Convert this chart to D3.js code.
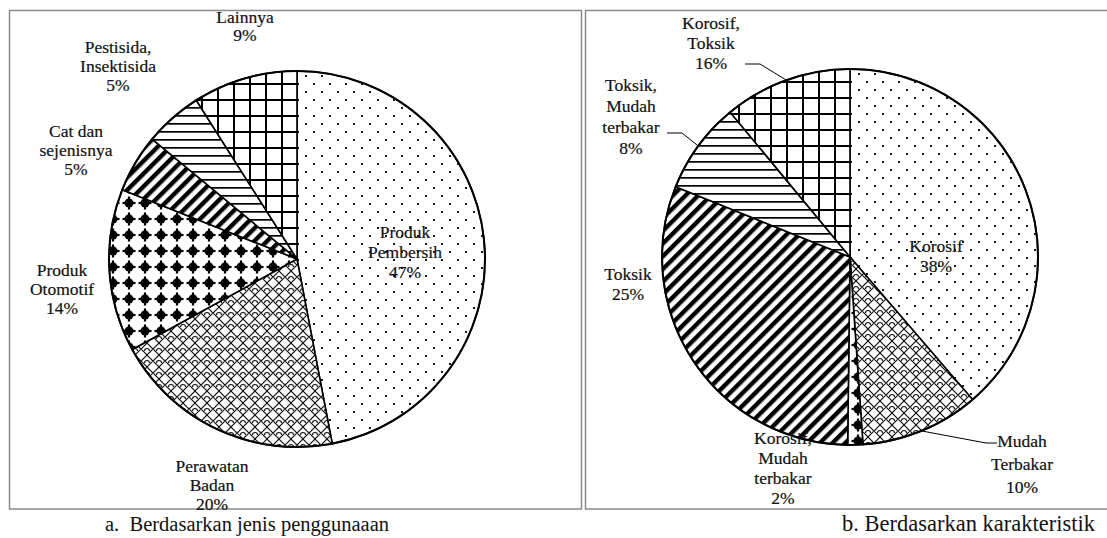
<!DOCTYPE html>
<meta charset="utf-8">
<style>
    body { margin: 0; background: #fff; }
    .frame { fill: none; stroke: #8a8a8a; stroke-width: 1.5px; }
    .slice { stroke: #000; stroke-width: 1.6px; }
    .leader { fill: none; stroke: #000; stroke-width: 1px; }
</style>
<body>
    <svg width="1107" height="538"></svg>
</body>
<script src="https://d3js.org/d3.v7.min.js"></script>
<script>
    // a. by type of use
    var usageNames = ["Produk Pembersih", "Perawatan Badan", "Produk Otomotif", "Cat dan sejenisnya", "Pestisida, Insektisida", "Lainnya"];
    var usageValues = [47, 20, 14, 5, 5, 9];
    var usageLabels = [["Produk", "Pembersih", "47%"], ["Perawatan", "Badan", "20%"], ["Produk", "Otomotif", "14%"],
        ["Cat dan", "sejenisnya", "5%"], ["Pestisida,", "Insektisida", "5%"], ["Lainnya", "9%"]];

    // b. by characteristic (slice sizes as drawn, labels as printed)
    var charNames = ["Korosif", "Mudah Terbakar", "Korosif, Mudah terbakar", "Toksik", "Toksik, Mudah terbakar", "Korosif, Toksik"];
    var charValues = [38.7, 10.2, 1.3, 30.9, 7.9, 11.0];
    var charLabels = [["Korosif", "38%"], ["Mudah", "Terbakar", "10%"], ["Korosif,", "Mudah", "terbakar", "2%"],
        ["Toksik", "25%"], ["Toksik,", "Mudah", "terbakar", "8%"], ["Korosif,", "Toksik", "16%"]];

    var patternOrder = ["dots", "shingle", "blobs", "wideup", "horiz", "grid"];

    var FONT = "Liberation Serif";
    var svg = d3.select("svg");
    var R = 188;

    // ---- fill patterns
    var defs = svg.append("defs");

    function pat(id, w, h, tf) {
        var p = defs.append("pattern")
            .attr("id", id)
            .attr("patternUnits", "userSpaceOnUse")
            .attr("width", w)
            .attr("height", h);
        if (tf) p.attr("patternTransform", tf);
        p.append("rect").attr("width", w).attr("height", h).attr("fill", "#fff");
        return p;
    }

    var p = pat("dots", 16, 16);
    p.append("rect").attr("x", 0).attr("y", 0).attr("width", 2).attr("height", 2).attr("fill", "#1a1a1a");
    p.append("rect").attr("x", 8).attr("y", 8).attr("width", 2).attr("height", 2).attr("fill", "#1a1a1a");

    p = pat("shingle", 12, 12);
    p.append("path")
        .attr("d", "M0,6 L6,0 L12,6 L6,12 Z M3.5,8 A2.5,2.5 0 0 1 8.5,8")
        .attr("fill", "none").attr("stroke", "#111").attr("stroke-width", 1.1);

    p = pat("blobs", 16, 16);
    p.append("circle").attr("cx", 8).attr("cy", 8).attr("r", 4.5).attr("fill", "#000");
    p.append("rect").attr("x", 1.5).attr("y", 6.9).attr("width", 13).attr("height", 2.2).attr("fill", "#000");
    p.append("rect").attr("x", 6.9).attr("y", 1.5).attr("width", 2.2).attr("height", 13).attr("fill", "#000");

    p = pat("wideup", 9, 9, "rotate(45)");
    p.append("rect").attr("width", 4.4).attr("height", 9).attr("fill", "#000");

    p = pat("horiz", 8, 8);
    p.append("rect").attr("y", 0).attr("width", 8).attr("height", 1.7).attr("fill", "#000");

    p = pat("grid", 16, 16);
    p.append("rect").attr("x", 0).attr("width", 2).attr("height", 16).attr("fill", "#000");
    p.append("rect").attr("y", 0).attr("width", 16).attr("height", 2).attr("fill", "#000");

    // ---- frames
    svg.append("rect").attr("class", "frame").attr("x", 9.5).attr("y", 10.5).attr("width", 572).attr("height", 498.5);
    svg.append("rect").attr("class", "frame").attr("x", 585.5).attr("y", 10.5).attr("width", 540).attr("height", 498.5);

    var pie = d3.pie().sort(null).value(function (d) { return d; });
    var arc = d3.arc().innerRadius(0).outerRadius(R);
    var rim = d3.arc().innerRadius(R).outerRadius(R);

    function drawPie(cx, cy, values, names) {
        var g = svg.append("g").attr("transform", "translate(" + cx + "," + cy + ")");
        var arcs = pie(values);
        g.selectAll("path.slice")
            .data(arcs)
            .enter().append("path")
            .attr("class", "slice")
            .attr("d", arc)
            .attr("fill", function (d, i) { return "url(#" + patternOrder[i] + ")"; })
            .append("title").text(function (d, i) { return names[i]; });
        g.append("circle").attr("r", R).attr("fill", "none").attr("stroke", "#000").attr("stroke-width", 2);
        return { g: g, arcs: arcs, cx: cx, cy: cy };
    }

    function drawLabels(lines, x, y, step) {
        var t = svg.append("text")
            .attr("font-family", FONT)
            .attr("font-size", 17.5)
            .attr("fill", "#111")
            .attr("stroke", "#111")
            .attr("stroke-width", 0.2)
            .attr("text-anchor", "middle");
        lines.forEach(function (s, i) {
            t.append("tspan").attr("x", x).attr("y", y + i * step).text(s);
        });
    }

    // label layout: [x, first baseline, line step]
    var usagePos = [[405, 238, 20], [212, 472, 19], [62, 276, 19], [76, 137, 19], [118, 53, 19], [245, 23, 18]];
    var charPos = [[936, 252, 20], [1022, 447, 23], [783, 444, 20], [628, 280, 20], [631, 91, 21], [711, 29, 20]];

    var left = drawPie(297, 259, usageValues, usageNames);
    usageLabels.forEach(function (l, i) { drawLabels(l, usagePos[i][0], usagePos[i][1], usagePos[i][2]); });

    var right = drawPie(850, 257, charValues, charNames);
    charLabels.forEach(function (l, i) { drawLabels(l, charPos[i][0], charPos[i][1], charPos[i][2]); });

    // leader lines on the right pie: from the label stub to the rim mid-angle
    function leader(i, x0, x1, y) {
        var c = rim.centroid(right.arcs[i]);
        svg.append("path").attr("class", "leader")
            .attr("d", "M" + x0 + "," + y + "L" + x1 + "," + y + "L" + (right.cx + c[0]) + "," + (right.cy + c[1]));
    }
    leader(5, 745, 760, 64);
    leader(4, 667, 682, 133);
    leader(1, 997, 986, 443);

    function caption(x, anchor, size, s) {
        svg.append("text")
            .attr("font-family", FONT)
            .attr("font-size", size)
            .attr("fill", "#111")
            .attr("x", x).attr("y", 531)
            .attr("text-anchor", anchor)
            .attr("xml:space", "preserve")
            .style("white-space", "pre")
            .text(s);
    }
    caption(105, "start", 20.5, "a.  Berdasarkan jenis penggunaaan");
    caption(1095, "end", 22.5, "b. Berdasarkan karakteristik");
</script>
